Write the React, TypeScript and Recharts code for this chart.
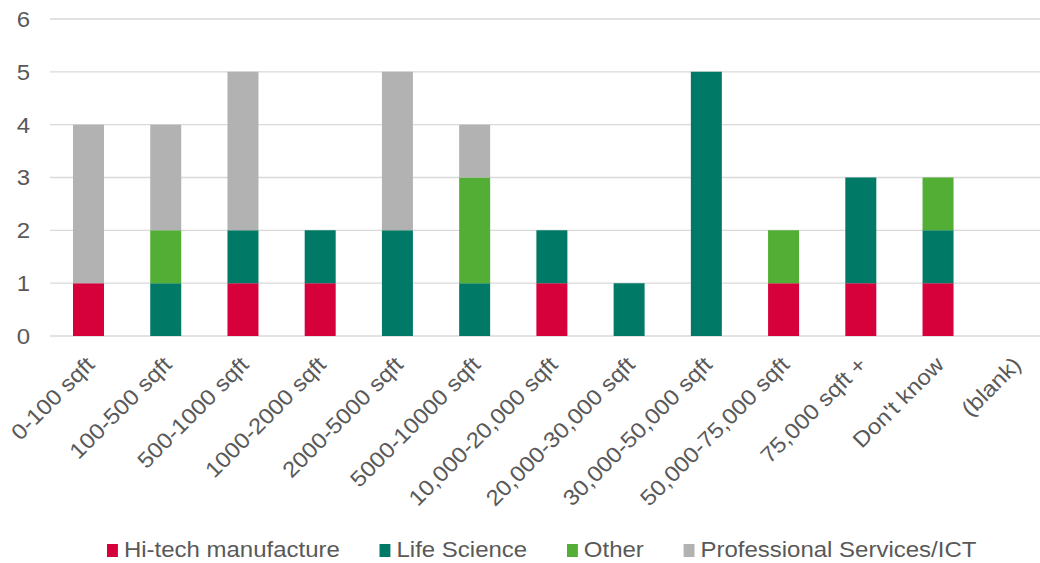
import { BarChart, Bar, XAxis, YAxis, CartesianGrid, Legend } from "recharts";

const categories = [
  "0-100 sqft",
  "100-500 sqft",
  "500-1000 sqft",
  "1000-2000 sqft",
  "2000-5000 sqft",
  "5000-10000 sqft",
  "10,000-20,000 sqft",
  "20,000-30,000 sqft",
  "30,000-50,000 sqft",
  "50,000-75,000 sqft",
  "75,000 sqft +",
  "Don't know",
  "(blank)",
];
const hiTech = [1, 0, 1, 1, 0, 0, 1, 0, 0, 1, 1, 1, 0];
const lifeScience = [0, 1, 1, 1, 2, 1, 1, 1, 5, 0, 2, 1, 0];
const other = [0, 1, 0, 0, 0, 2, 0, 0, 0, 1, 0, 1, 0];
const professional = [3, 2, 3, 0, 3, 1, 0, 0, 0, 0, 0, 0, 0];
const yTicks = [0, 1, 2, 3, 4, 5, 6];

const series = [
  { key: "hiTech", name: "Hi-tech manufacture", color: "#D6003A" },
  { key: "lifeScience", name: "Life Science", color: "#007A66" },
  { key: "other", name: "Other", color: "#52AE34" },
  { key: "professional", name: "Professional Services/ICT", color: "#B2B2B2" },
];

const data = categories.map((category, i) => ({
  category,
  hiTech: hiTech[i],
  lifeScience: lifeScience[i],
  other: other[i],
  professional: professional[i],
}));

const FONT = "'Liberation Sans', Arial, sans-serif";
const TEXT = "#595959";
const FONT_SIZE = 22;
// text is drawn slightly wide, like the original Office export
const STRETCH = 1.09;

function CategoryTick({ x, y, payload }: any) {
  return (
    <g transform={`translate(${x + 7},${y + 22})`}>
      <text
        transform={`rotate(-45) scale(${STRETCH},1)`}
        textAnchor="end"
        fill={TEXT}
        fontSize={FONT_SIZE}
        fontFamily={FONT}
      >
        {payload.value}
      </text>
    </g>
  );
}

function ValueTick({ x, y, payload }: any) {
  return (
    <g transform={`translate(${x},${y}) scale(${STRETCH},1)`}>
      <text textAnchor="end" dy="0.36em" fill={TEXT} fontSize={FONT_SIZE} fontFamily={FONT}>
        {payload.value}
      </text>
    </g>
  );
}

function LegendRow() {
  return (
    <div style={{ width: 1040, height: 30, position: "relative" }}>
      <div
        style={{
          position: "absolute",
          left: 107,
          top: 2,
          display: "flex",
          alignItems: "center",
          height: 30,
          gap: 36.5,
          transform: `scaleX(${STRETCH})`,
          transformOrigin: "left center",
          fontFamily: FONT,
          fontSize: FONT_SIZE,
          color: TEXT,
          whiteSpace: "nowrap",
        }}
      >
        {series.map((s) => (
          <div key={s.key} style={{ display: "flex", alignItems: "center" }}>
            <span style={{ display: "inline-block", width: 10, height: 13, background: s.color, marginRight: 5.5 }} />
            <span>{s.name}</span>
          </div>
        ))}
      </div>
    </div>
  );
}

export default function App() {
  return (
    <div style={{ position: "absolute", left: 0, top: 0, width: 1040, height: 563, overflow: "hidden", background: "#fff" }}>
      <BarChart width={1056} height={563} data={data} margin={{ top: 19, right: 2, left: 0, bottom: 0 }}>
        <CartesianGrid horizontal vertical={false} stroke="#D9D9D9" strokeWidth={1.3} />
        <XAxis
          dataKey="category"
          interval={0}
          axisLine={false}
          tickLine={false}
          height={197}
          tick={<CategoryTick />}
        />
        <YAxis
          domain={[0, 6]}
          ticks={yTicks}
          width={50}
          axisLine={false}
          tickLine={false}
          tickSize={0}
          tickMargin={20}
          tick={<ValueTick />}
        />
        <Legend verticalAlign="bottom" wrapperStyle={{ left: 0, width: 1040 }} content={() => <LegendRow />} />
        {series.map((s) => (
          <Bar key={s.key} dataKey={s.key} name={s.name} stackId="a" fill={s.color} barSize={31} isAnimationActive={false} />
        ))}
      </BarChart>
    </div>
  );
}
